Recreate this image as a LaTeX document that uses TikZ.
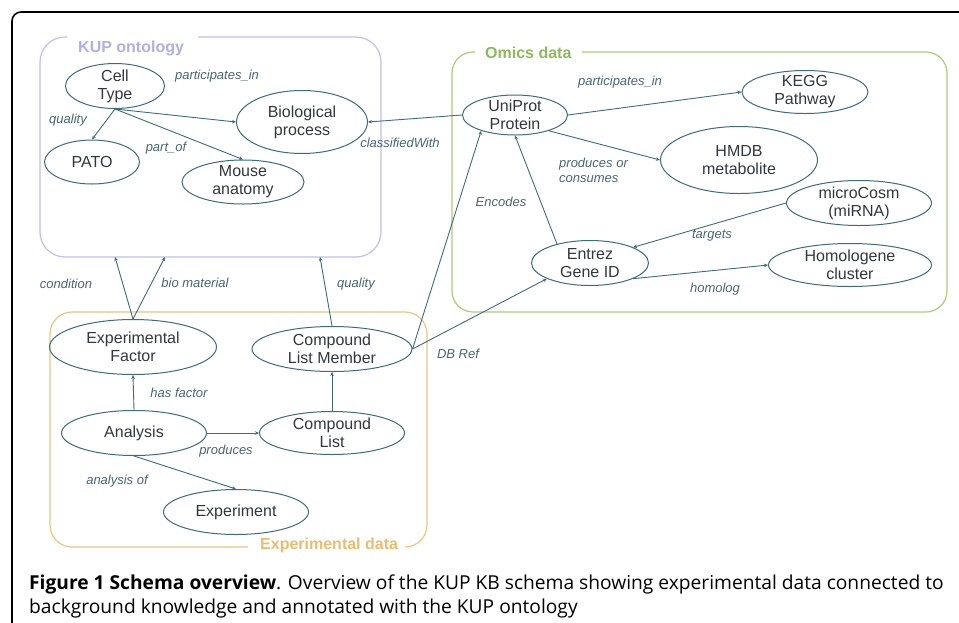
\documentclass[tikz,border=0pt]{standalone}
\usepackage{fontspec}
\setmainfont{Liberation Sans}
\newfontfamily\capfont{Open Sans}
\usetikzlibrary{shapes.geometric,arrows.meta}
\definecolor{edgec}{RGB}{62,108,124}
\definecolor{nodetxt}{RGB}{50,56,62}
\definecolor{labtxt}{RGB}{72,102,116}
\definecolor{kupc}{RGB}{192,192,236}
\definecolor{kuptxt}{RGB}{176,176,226}
\definecolor{omicc}{RGB}{172,204,122}
\definecolor{omictxt}{RGB}{140,186,92}
\definecolor{expc}{RGB}{234,198,132}
\definecolor{exptxt}{RGB}{234,188,112}
\tikzset{
  ell/.style={ellipse, draw=edgec, line width=1pt, inner sep=0pt},
  nt/.style={align=center, inner sep=0pt, text=nodetxt, font=\fontsize{16}{18}\selectfont},
  lab/.style={inner sep=0pt, text=labtxt, font=\fontsize{13}{15}\selectfont\itshape},
  grp/.style={line width=1.2pt},
  gtitle/.style={inner sep=0pt, font=\fontsize{16}{18}\selectfont\bfseries},
  conn/.style={draw=edgec, line width=0.9pt, -{Stealth[length=4pt,width=3.5pt]}},
}
\begin{document}
\begin{tikzpicture}[x=1pt,y=-1pt]
\useasboundingbox (0,0) rectangle (959,622);
\fill[white] (0,0) rectangle (959,622);
\begin{scope}
\clip (0,0) rectangle (959,622);
\draw[black, line width=1.6pt, rounded corners=9pt] (12,12) rectangle (990,660);
\end{scope}

% group boxes
\draw[grp, kupc, rounded corners=25pt] (198,37) -- (381,37) -- (381,257) -- (40,257) -- (40,37) -- (67,37);
\node[gtitle, text=kuptxt, anchor=west] (kuptitle) at (78,48) {KUP ontology};
\draw[grp, omicc, rounded corners=21pt] (582,52) -- (947,52) -- (947,312) -- (452,312) -- (452,52) -- (475,52);
\node[gtitle, text=omictxt, anchor=west] (omictitle) at (485,53) {Omics data};
\draw[grp, expc, rounded corners=22pt] (248,547) -- (50,547) -- (50,312) -- (427,312) -- (427,547) -- (406,547);
\node[gtitle, text=exptxt, anchor=west] (exptitle) at (260,545) {Experimental data};

\coordinate (kupA) at (115,257);
\coordinate (kupB) at (165,257);
\coordinate (kupC) at (320,257);

% nodes
\node[ell, minimum width=99pt, minimum height=45pt] (celltype) at (115,86) {};
\node[nt] at (celltype) {Cell\\Type};
\node[ell, minimum width=95pt, minimum height=44pt] (pato) at (92,162) {};
\node[nt] at (pato) {PATO};
\node[ell, minimum width=131pt, minimum height=63pt] (bioproc) at (302,122) {};
\node[nt] at (bioproc) {Biological\\process};
\node[ell, minimum width=122pt, minimum height=44pt] (mouse) at (243,182) {};
\node[nt] at (mouse) {Mouse\\anatomy};
\node[ell, minimum width=105pt, minimum height=40pt] (uniprot) at (515,115) {};
\node[nt] at (uniprot) {UniProt\\Protein};
\node[ell, minimum width=126pt, minimum height=43pt] (kegg) at (805,92) {};
\node[nt] at (kegg) {KEGG\\Pathway};
\node[ell, minimum width=157pt, minimum height=67pt] (hmdb) at (739,160) {};
\node[nt] at (hmdb) {HMDB\\metabolite};
\node[ell, minimum width=145pt, minimum height=45pt] (micro) at (859,203) {};
\node[nt] at (micro) {microCosm\\(miRNA)};
\node[ell, minimum width=117pt, minimum height=45pt] (entrez) at (590,263) {};
\node[nt] at (entrez) {Entrez\\Gene ID};
\node[ell, minimum width=163pt, minimum height=43pt] (homolo) at (850,265) {};
\node[nt] at (homolo) {Homologene\\cluster};
\node[ell, minimum width=167pt, minimum height=55pt] (expfac) at (133,347) {};
\node[nt] at (expfac) {Experimental\\Factor};
\node[ell, minimum width=160pt, minimum height=45pt] (clm) at (332,349) {};
\node[nt] at (clm) {Compound\\List Member};
\node[ell, minimum width=145pt, minimum height=45pt] (analysis) at (134,433) {};
\node[nt] at (analysis) {Analysis};
\node[ell, minimum width=145pt, minimum height=43pt] (clist) at (332,433) {};
\node[nt] at (clist) {Compound\\List};
\node[ell, minimum width=145pt, minimum height=45pt] (experiment) at (236,512) {};
\node[nt] at (experiment) {Experiment};

% connectors
\draw[conn] (celltype.south) -- (pato.north);
\draw[conn] (celltype.south) -- (bioproc.west);
\draw[conn] (celltype.south) -- (mouse.north);
\draw[conn] (uniprot.west) -- (bioproc.east);
\draw[conn] (uniprot.east) -- (kegg.west);
\draw[conn] (uniprot.-25) -- (hmdb.west);
\draw[conn] (entrez.150) -- (uniprot.south);
\draw[conn] (micro.west) -- (entrez.20);
\draw[conn] (entrez.-20) -- (homolo.west);
\draw[conn] (clm.east) -- (uniprot.205);
\draw[conn] (clm.east) -- (entrez.200);
\draw[conn] (expfac.north) -- (kupA);
\draw[conn] (expfac.north) -- (kupB);
\draw[conn] (clm.north) -- (kupC);
\draw[conn] (analysis.north) -- (expfac.south);
\draw[conn] (analysis.east) -- (clist.west);
\draw[conn] (clist.north) -- (clm.south);
\draw[conn] (analysis.south) -- (experiment.north);

% labels
\node[lab] (l1) at (217,76) {participates\_in};
\node[lab] (l2) at (68,120) {quality};
\node[lab] (l3) at (166,148) {part\_of};
\node[lab] (l4) at (400,143) {classifiedWith};
\node[lab] (l5) at (620,82) {participates\_in};
\node[lab, align=left, anchor=west] (l6) at (559,170) {produces or\\consumes};
\node[lab] (l7) at (501,202) {Encodes};
\node[lab] (l8) at (712,236) {targets};
\node[lab] (l9) at (715,289) {homolog};
\node[lab] (l10) at (458,354) {DB Ref};
\node[lab] (l11) at (66,284) {condition};
\node[lab] (l12) at (195,283) {bio material};
\node[lab] (l13) at (356,284) {quality};
\node[lab] (l14) at (179,393) {has factor};
\node[lab] (l15) at (226,451) {produces};
\node[lab] (l16) at (117,481) {analysis of};

% caption
\node[anchor=base west, inner sep=0pt, font=\capfont\fontsize{19.2}{24}\selectfont] (cap1) at (29,589) {\textbf{Figure 1 Schema overview}. Overview of the KUP KB schema showing experimental data connected to};
\node[anchor=base west, inner sep=0pt, font=\capfont\fontsize{19.2}{24}\selectfont] (cap2) at (29,613) {background knowledge and annotated with the KUP ontology};
\end{tikzpicture}
\end{document}
